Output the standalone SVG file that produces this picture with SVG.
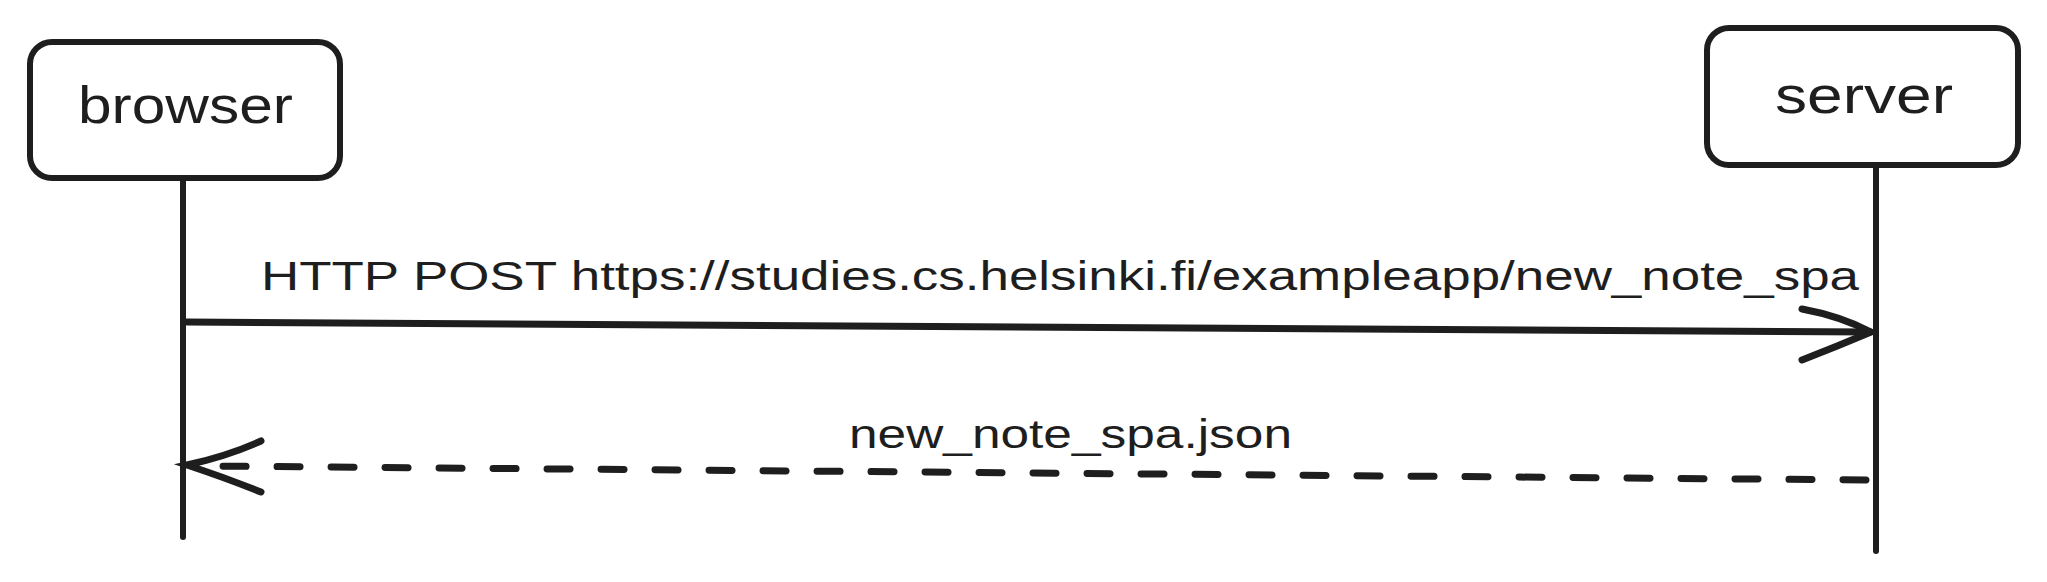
<svg xmlns="http://www.w3.org/2000/svg" width="2047" height="582" viewBox="0 0 2047 582">
  <style>
    .box { fill: #ffffff; stroke: #1e1e1e; stroke-width: 6; }
    .life { stroke: #1e1e1e; stroke-width: 6; stroke-linecap: round; fill: none; }
    .msg { stroke: #1e1e1e; stroke-width: 7; stroke-linecap: round; fill: none; }
    .dash { stroke-dasharray: 23 31; }
    .head { stroke: #1e1e1e; stroke-width: 7; stroke-linecap: round; fill: none; }
    .t { font-family: "Liberation Sans", Arial, sans-serif; fill: #1e1e1e; }
  </style>
  <rect width="2047" height="582" fill="#ffffff"/>
  <g id="connectors">
    <line class="life" x1="183" y1="180" x2="183" y2="537"/>
    <line class="life" x1="1876" y1="166" x2="1876" y2="551"/>
    <g id="msg1">
      <line class="msg" x1="187" y1="322" x2="1870" y2="332"/>
      <path class="head" d="M1802 309 Q1840 316 1871 332 Q1838 346 1802 360"/>
      <text class="t" x="261" y="290" font-size="40" textLength="1598" lengthAdjust="spacingAndGlyphs">HTTP POST https://studies.cs.helsinki.fi/exampleapp/new_note_spa</text>
    </g>
    <g id="msg2">
      <line class="msg dash" x1="1866" y1="480" x2="205" y2="466"/>
      <path class="head" d="M261 441 Q228 456 187 465 Q226 478 261 492"/>
      <text class="t" x="849" y="448" font-size="40" textLength="443" lengthAdjust="spacingAndGlyphs">new_note_spa.json</text>
    </g>
  </g>
  <g id="browser">
    <rect class="box" x="30" y="42" width="310" height="136" rx="22"/>
    <text class="t" x="78" y="123" font-size="52" textLength="215" lengthAdjust="spacingAndGlyphs">browser</text>
  </g>
  <g id="server">
    <rect class="box" x="1707" y="28" width="311" height="137" rx="22"/>
    <text class="t" x="1775" y="113" font-size="52" textLength="178" lengthAdjust="spacingAndGlyphs">server</text>
  </g>
</svg>
